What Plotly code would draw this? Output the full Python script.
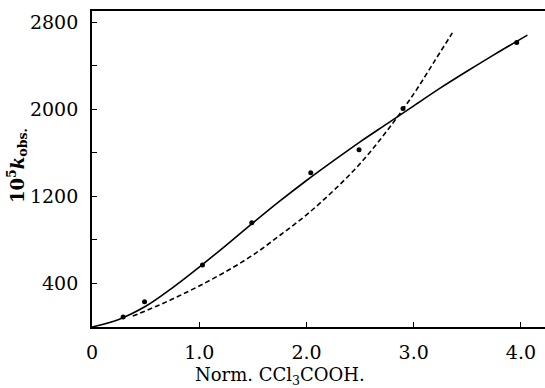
import plotly.graph_objects as go

# Observed data points
pt_x = [0.29, 0.49, 1.03, 1.49, 2.04, 2.49, 2.90, 3.96]
pt_y = [92, 232, 570, 956, 1416, 1628, 2005, 2611]

# Solid curve
solid_x = [0, 0.25, 0.5, 0.75, 1.0, 1.25, 1.5, 1.75, 2.0, 2.25, 2.5, 2.75, 3.0, 3.25, 3.5, 3.75, 4.06]
solid_y = [0, 70, 190, 360, 550, 750, 955, 1155, 1345, 1525, 1700, 1865, 2030, 2195, 2350, 2500, 2680]

# Dashed curve
dash_x = [0.38, 0.6, 0.8, 1.0, 1.25, 1.5, 1.75, 2.0, 2.25, 2.5, 2.75, 3.0, 3.2, 3.36]
dash_y = [100, 190, 280, 377, 510, 660, 840, 1030, 1250, 1500, 1800, 2140, 2450, 2700]

x_ticks = [0, 1.0, 2.0, 3.0, 4.0]
x_ticktext = ["0", "1.0", "2.0", "3.0", "4.0"]
y_ticks = [400, 800, 1200, 1600, 2000, 2400, 2800]
y_ticktext = ["400", "", "1200", "", "2000", "", "2800"]

FONT = "DejaVu Serif"

fig = go.Figure()
fig.add_trace(go.Scatter(x=solid_x, y=solid_y, mode="lines",
                         line=dict(color="black", width=1.6, shape="spline", smoothing=1.0),
                         showlegend=False, hoverinfo="skip"))
fig.add_trace(go.Scatter(x=dash_x, y=dash_y, mode="lines",
                         line=dict(color="black", width=1.6, dash="5px,3px", shape="spline", smoothing=1.0),
                         showlegend=False, hoverinfo="skip"))
fig.add_trace(go.Scatter(x=pt_x, y=pt_y, mode="markers",
                         marker=dict(color="black", size=5),
                         showlegend=False))

fig.update_layout(
    width=545, height=388,
    margin=dict(l=92, r=0, t=11, b=61),
    paper_bgcolor="white", plot_bgcolor="white",
    font=dict(family=FONT, color="black", size=19),
    xaxis=dict(range=[0, 4.224], tickvals=x_ticks, ticktext=x_ticktext,
               ticks="inside", ticklen=5, tickwidth=1.2, tickcolor="black",
               showline=True, linecolor="black", linewidth=1.8, mirror=True,
               showgrid=False, zeroline=False, ticklabelstandoff=7),
    yaxis=dict(range=[0, 2901], tickvals=y_ticks, ticktext=y_ticktext,
               ticks="inside", ticklen=5, tickwidth=1.2, tickcolor="black",
               showline=True, linecolor="black", linewidth=1.8,
               showgrid=False, zeroline=False, ticklabelstandoff=8),
    annotations=[
        dict(text="Norm. CCl<sub>3</sub>COOH.", xref="paper", yref="paper",
             x=(280 - 92) / 453, y=(327 - 376) / 316, xanchor="center", yanchor="middle",
             showarrow=False, font=dict(family=FONT, size=18, color="black")),
        dict(text="<b>10<sup>5</sup><i>k</i><sub>obs.</sub></b>", xref="paper", yref="paper",
             x=-75 / 453, y=(327 - 166) / 316, xanchor="center", yanchor="middle",
             textangle=-90, showarrow=False,
             font=dict(family=FONT, size=18, color="black")),
    ],
)

fig.write_html("out.html")
